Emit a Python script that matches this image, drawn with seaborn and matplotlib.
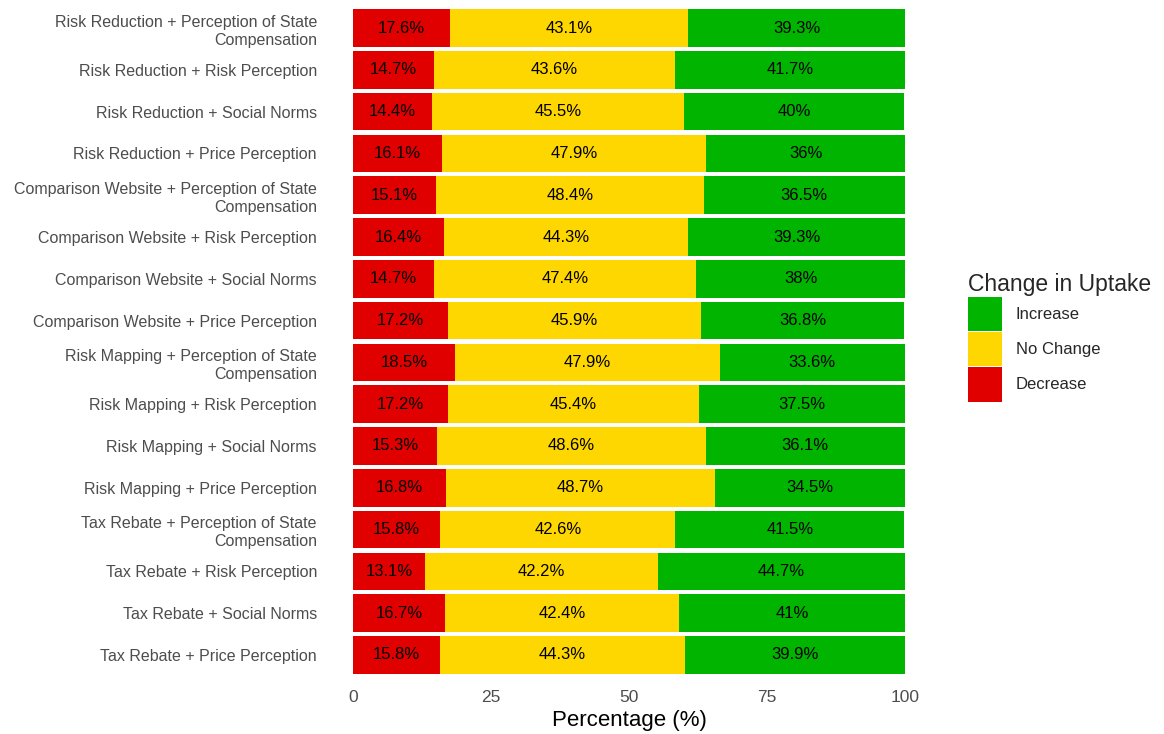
import pandas as pd
import matplotlib.pyplot as plt
import seaborn as sns
from matplotlib.patches import Patch

# Datos (de arriba hacia abajo)
combinaciones = [
    "Risk Reduction + Perception of State\nCompensation",
    "Risk Reduction + Risk Perception",
    "Risk Reduction + Social Norms",
    "Risk Reduction + Price Perception",
    "Comparison Website + Perception of State\nCompensation",
    "Comparison Website + Risk Perception",
    "Comparison Website + Social Norms",
    "Comparison Website + Price Perception",
    "Risk Mapping + Perception of State\nCompensation",
    "Risk Mapping + Risk Perception",
    "Risk Mapping + Social Norms",
    "Risk Mapping + Price Perception",
    "Tax Rebate + Perception of State\nCompensation",
    "Tax Rebate + Risk Perception",
    "Tax Rebate + Social Norms",
    "Tax Rebate + Price Perception",
]
decrease = [17.6, 14.7, 14.4, 16.1, 15.1, 16.4, 14.7, 17.2, 18.5, 17.2, 15.3, 16.8, 15.8, 13.1, 16.7, 15.8]
no_change = [43.1, 43.6, 45.5, 47.9, 48.4, 44.3, 47.4, 45.9, 47.9, 45.4, 48.6, 48.7, 42.6, 42.2, 42.4, 44.3]
increase = [39.3, 41.7, 40.0, 36.0, 36.5, 39.3, 38.0, 36.8, 33.6, 37.5, 36.1, 34.5, 41.5, 44.7, 41.0, 39.9]

colores = {"Increase": "#00B400", "No Change": "#FFD700", "Decrease": "#E00000"}

df = pd.DataFrame({
    "Combinacion": combinaciones,
    "Decrease": decrease,
    "No Change": no_change,
    "Increase": increase,
})
df["cum_dec"] = df["Decrease"]
df["cum_nc"] = df["Decrease"] + df["No Change"]
df["cum_inc"] = df["cum_nc"] + df["Increase"]

sns.set_theme(style="white")
plt.rcParams["font.family"] = ["Liberation Sans", "DejaVu Sans"]

fig = plt.figure(figsize=(11.64, 7.34), dpi=100)
ax = fig.add_axes([353 / 1164, 1 - 680 / 734, (905 - 353) / 1164, 677 / 734])

# Barras apiladas: primero el total y encima los acumulados menores
capas = [("cum_inc", "Increase"), ("cum_nc", "No Change"), ("cum_dec", "Decrease")]
for col, nombre in capas:
    sns.barplot(data=df, x=col, y="Combinacion", color=colores[nombre],
                width=0.9, saturation=1, ax=ax, linewidth=0, errorbar=None)

# Etiquetas centradas en cada segmento (filas en posiciones categoricas 0..n-1)
for i, fila in df.iterrows():
    for col, nombre in capas:
        valor = fila[nombre]
        centro = fila[col] - valor / 2
        ax.text(centro, i, f"{valor:g}%", ha="center", va="center",
                fontsize=12, color="black")

ax.set_xlim(0, 100)
ax.set_ylim(15.6, -0.6)
ax.set_xticks([0, 25, 50, 75, 100])
ax.tick_params(axis="x", labelsize=12.5, colors="#4d4d4d", length=0, pad=7)
ax.tick_params(axis="y", labelsize=11.5, colors="#4d4d4d", length=0, pad=26)
for lbl in ax.get_yticklabels():
    lbl.set_multialignment("right")
    lbl.set_linespacing(1.25)
ax.set_xlabel("Percentage (%)", fontsize=16, color="black", labelpad=4)
ax.set_ylabel("")
sns.despine(ax=ax, left=True, bottom=True)

handles = [Patch(facecolor=colores[k], edgecolor="none") for k in ["Increase", "No Change", "Decrease"]]
leg = fig.legend(handles, ["Increase", "No Change", "Decrease"], title="Change in Uptake",
                 loc="upper left", bbox_to_anchor=(953 / 1164, 1 - 258 / 734),
                 frameon=False, fontsize=12, title_fontsize=16.5,
                 handlelength=2.05, handleheight=2.8, handletextpad=0.8, labelspacing=0.05)
leg._legend_box.align = "left"

plt.savefig("out.png", dpi=100)
